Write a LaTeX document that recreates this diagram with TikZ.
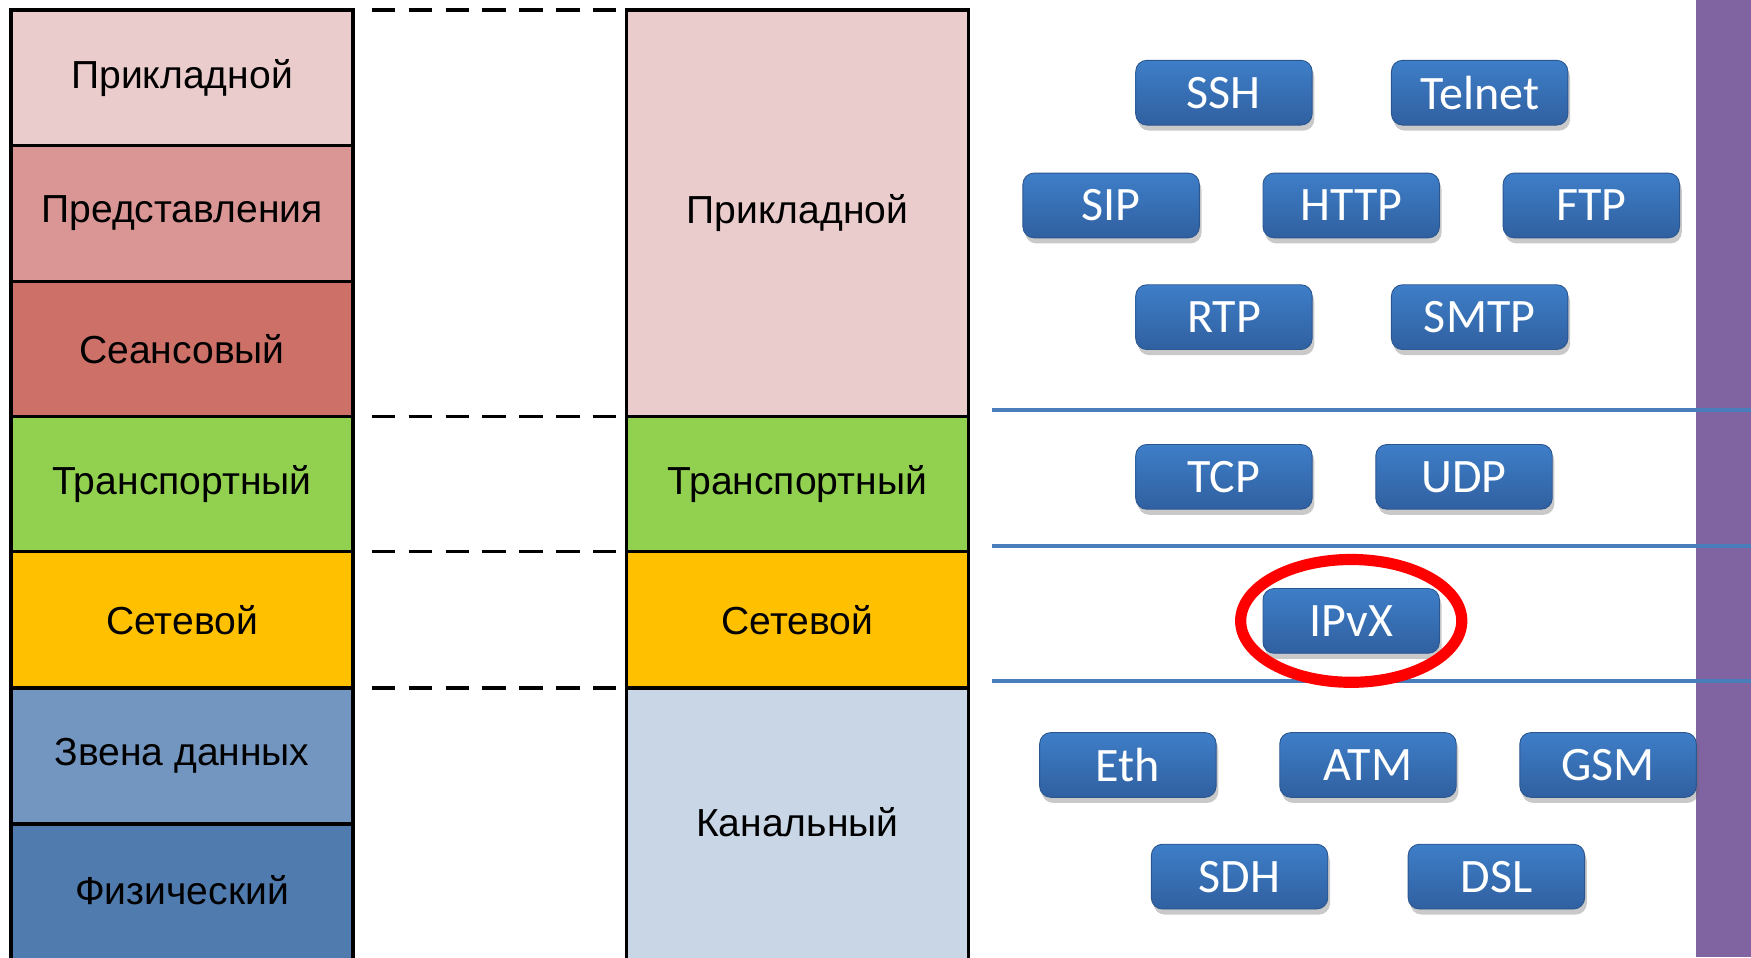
\documentclass[tikz,border=0pt]{standalone}
\usepackage{fontspec}
\setmainfont{Liberation Sans}
\newfontfamily\btnfont{Carlito}
\usetikzlibrary{shadows}
\definecolor{cApp}{RGB}{235,204,204}
\definecolor{cPres}{RGB}{217,150,148}
\definecolor{cSess}{RGB}{204,112,104}
\definecolor{cTrans}{RGB}{146,208,80}
\definecolor{cNet}{RGB}{255,192,0}
\definecolor{cLink}{RGB}{115,150,192}
\definecolor{cPhys}{RGB}{79,123,175}
\definecolor{cChan}{RGB}{201,214,229}
\definecolor{cPurple}{RGB}{128,100,162}
\definecolor{cLine}{RGB}{74,126,187}
\definecolor{bTop}{RGB}{62,126,200}
\definecolor{bBot}{RGB}{48,96,160}
\tikzset{
  layer/.style={draw=black, line width=3pt, minimum width=306pt, inner sep=0pt, outer sep=0pt,
    font=\fontsize{35}{42}\selectfont, text=black},
  btn/.style={rounded corners=10pt, minimum width=158pt, minimum height=58pt, inner sep=0pt,
    top color=bTop, bottom color=bBot, draw=bBot!90!black, line width=0.8pt,
    text=white, font=\btnfont\fontsize{43}{50}\selectfont,
    drop shadow={shadow xshift=2pt, shadow yshift=-5pt, opacity=0.35, fill=black!60}},
  dashline/.style={draw=black, line width=3pt, dash pattern=on 21pt off 12pt},
  sepline/.style={draw=cLine, line width=4pt},
}
\begin{document}
\begin{tikzpicture}[x=1pt, y=-1pt]
\useasboundingbox (0,0) rectangle (1568,857);
\fill[white] (0,0) rectangle (1568,857);
% purple bar
\fill[cPurple] (1519,0) rectangle (1568,857);
% left column (OSI)
\node[layer, fill=cApp,  minimum height=121pt] (oApp)  at (163,69.5)  {Прикладной};
\node[layer, fill=cPres, minimum height=122pt] (oPres) at (163,191)   {Представления};
\node[layer, fill=cSess, minimum height=121pt] (oSess) at (163,312.5) {Сеансовый};
\node[layer, fill=cTrans,minimum height=121pt] (oTrans) at (163,433.5) {Транспортный};
\node[layer, fill=cNet,  minimum height=122pt] (oNet)  at (163,555)   {Сетевой};
\node[layer, fill=cLink, minimum height=122pt] (oLink) at (163,677)   {Звена данных};
\node[layer, fill=cPhys, minimum height=140pt] (oPhys) at (163,808)   {};
\node[font=\fontsize{35}{42}\selectfont] (tPhys) at (163,797) {Физический};
% middle column (TCP/IP)
\node[layer, fill=cApp,  minimum height=364pt] (mApp)  at (714,191)   {Прикладной};
\node[layer, fill=cTrans,minimum height=121pt] (mTrans) at (714,433.5) {Транспортный};
\node[layer, fill=cNet,  minimum height=122pt] (mNet)  at (714,555)   {Сетевой};
\node[layer, fill=cChan, minimum height=262pt] (mChan) at (714,747)   {};
\node[font=\fontsize{35}{42}\selectfont] (tChan) at (714,736) {Канальный};
% dashed connectors
\coordinate (d1) at (333,9);
\coordinate (d2) at (333,373);
\coordinate (d3) at (333,494);
\coordinate (d4) at (333,616);
\draw[dashline] (d1) -- (mApp.north west);
\draw[dashline] (d2) -- (mTrans.north west);
\draw[dashline] (d3) -- (mNet.north west);
\draw[dashline] (d4) -- (mChan.north west);
% separator lines
\coordinate (s1a) at (888,367); \coordinate (s1b) at (1568,367);
\coordinate (s2a) at (888,489); \coordinate (s2b) at (1568,489);
\coordinate (s3a) at (888,610); \coordinate (s3b) at (1568,610);
\draw[sepline] (s1a) -- (s1b);
\draw[sepline] (s2a) -- (s2b);
\draw[sepline] (s3a) -- (s3b);
% protocol buttons
\node[btn] (ssh)    at (1096,83)  {SSH};
\node[btn] (telnet) at (1325,83)  {Telnet};
\node[btn] (sip)    at (995,184)  {SIP};
\node[btn] (http)   at (1210,184) {HTTP};
\node[btn] (ftp)    at (1425,184) {FTP};
\node[btn] (rtp)    at (1096,284) {RTP};
\node[btn] (smtp)   at (1325,284) {SMTP};
\node[btn] (tcp)    at (1096,427) {TCP};
\node[btn] (udp)    at (1311,427) {UDP};
\node[btn] (ipvx)   at (1210,556) {IPvX};
\node[btn] (eth)    at (1010,685) {Eth};
\node[btn] (atm)    at (1225,685) {ATM};
\node[btn] (gsm)    at (1440,685) {GSM};
\node[btn] (sdh)    at (1110,785) {SDH};
\node[btn] (dsl)    at (1340,785) {DSL};
% red highlight ellipse
\draw[red, line width=10pt] (ipvx.center) ellipse [x radius=99, y radius=55];
\end{tikzpicture}
\end{document}
